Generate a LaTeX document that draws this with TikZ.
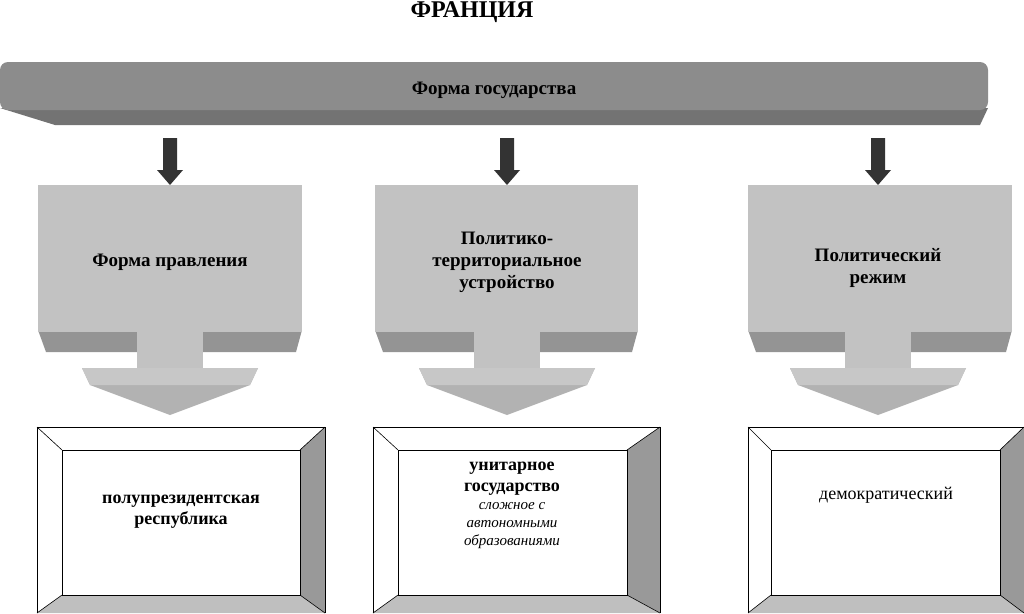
\documentclass[tikz,border=0pt]{standalone}
\usepackage{fontspec}
\setmainfont{Liberation Serif}
\begin{document}
\begin{tikzpicture}[x=1pt,y=-1pt,
  lbl/.style={font=\bfseries\fontsize{19}{22}\selectfont,align=center},
  inn/.style={font=\bfseries\fontsize{18}{21}\selectfont,align=center},
  darr/.style={fill=black!80,draw=none}]
\useasboundingbox (0,0) rectangle (1024,613);
\fill[white] (0,0) rectangle (1024,613);
\node[font=\bfseries\fontsize{24}{26}\selectfont] (title) at (472,12) {ФРАНЦИЯ};
% banner
\fill[black!55] (0,108) -- (988,108) -- (980,125) -- (55,125) -- cycle;
\fill[black!45,rounded corners=8pt] (0,62) rectangle (988,110);
\node[lbl] (forma) at (494,90) {Форма государства};
\foreach \cx/\nm/\xa/\xb/\txt/\bot/\xo/\xi/\xr/\xq in {
 170/a/38/302/{Форма правления}/{полупрезидентская\\республика}/37/62/300/325,
 507/b/375/638/{Политико-\\территориальное\\устройство}/{унитарное\\государство\\[-2pt]{\mdseries\itshape\fontsize{16}{20}\selectfont сложное с}\\{\mdseries\itshape\fontsize{16}{20}\selectfont автономными}\\{\mdseries\itshape\fontsize{16}{20}\selectfont образованиями}}/373/398/627/660,
 878/c/748/1012/{Политический\\режим}/{демократический}/748/771/1000/1024}{
  % small dark arrow
  \fill[darr] (\cx-7,138) -- (\cx+7,138) -- (\cx+7,170) -- (\cx+13,170) -- (\cx,185) -- (\cx-13,170) -- (\cx-7,170) -- cycle;
  % box bevel
  \fill[black!42] (\xa,330) -- (\xb,330) -- (\xb-6,352) -- (\xa+8,352) -- cycle;
  \fill[black!24] (\xa,185) rectangle (\xb,332);
  % stem and head
  \fill[black!24] (\cx-33,330) rectangle (\cx+33,370);
  \fill[black!30] (\cx-88,368) -- (\cx+88,368) -- (\cx+80,385) -- (\cx,415) -- (\cx-80,385) -- cycle;
  \fill[black!22] (\cx-88,368) -- (\cx+88,368) -- (\cx+80,385) -- (\cx-80,385) -- cycle;
  % bottom frame
  \fill[white] (\xo,427) -- (\xq,427) -- (\xr,450) -- (\xi,450) -- (\xi,595) -- (\xo,613) -- cycle;
  \fill[black!40] (\xq,427) -- (\xq,613) -- (\xr,595) -- (\xr,450) -- cycle;
  \fill[black!25] (\xo,613) -- (\xi,595) -- (\xr,595) -- (\xq,613) -- cycle;
  \draw[black,line width=0.8pt] (\xo,613) -- (\xo,427) -- (\xq,427) -- (\xq,613);
  \draw[black,line width=0.8pt] (\xi,450) rectangle (\xr,595);
  \draw[black,line width=0.6pt] (\xo,427) -- (\xi,450) (\xq,427) -- (\xr,450) (\xo,613) -- (\xi,595) (\xq,613) -- (\xr,595);
}
\node[lbl] (n1) at (170,262) {Форма правления};
\node[lbl] (n2) at (507,262) {Политико-\\территориальное\\устройство};
\node[lbl] (n3) at (878,268) {Политический\\режим};
\node[inn] (m1) at (181,512) {полупрезидентская\\республика};
\node[inn,anchor=north] (m2) at (512,458) {унитарное\\государство\\[-3pt]{\mdseries\itshape\fontsize{15}{19}\selectfont сложное с}\\[-3pt]{\mdseries\itshape\fontsize{15}{19}\selectfont автономными}\\[-3pt]{\mdseries\itshape\fontsize{15}{19}\selectfont образованиями}};
\node[font=\fontsize{18}{21}\selectfont] (m3) at (886,495) {демократический};
\end{tikzpicture}
\end{document}
